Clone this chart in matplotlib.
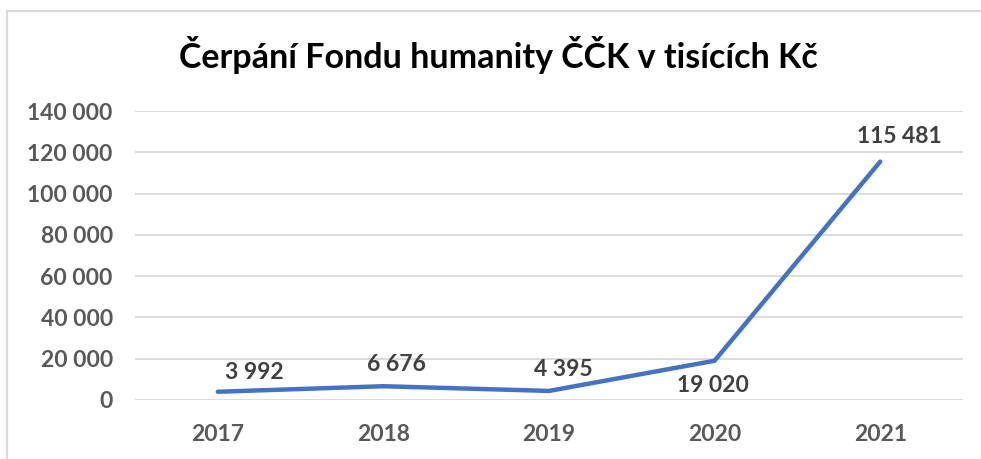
import matplotlib.pyplot as plt
from matplotlib.patches import Rectangle

years = ['2017', '2018', '2019', '2020', '2021']
values = [3992, 6676, 4395, 19020, 115481]
labels = ['3 992', '6 676', '4 395', '19 020', '115 481']
# label offsets in pixels (dx, dy) relative to each point
label_offsets = [(37, 19), (13, 22), (14, 21), (-2, -25), (19, 25)]
yticks = [0, 20000, 40000, 60000, 80000, 100000, 120000, 140000]
ytick_labels = ['0', '20 000', '40 000', '60 000', '80 000', '100 000', '120 000', '140 000']

plt.rcParams['font.family'] = ['Lato', 'DejaVu Sans']
plt.rcParams['font.weight'] = 'bold'

fig = plt.figure(figsize=(9.81, 4.59), dpi=100)
W, H = 981, 459

# chart border (light grey frame, cut off at right and bottom)
fig.patches.append(Rectangle((7 / W, -0.1), 1.2, 1.1 - 11 / H, transform=fig.transFigure,
                             fill=False, edgecolor='#D9D9D9', linewidth=1.6))

ax = fig.add_axes([135 / W, 1 - 400 / H, (963 - 135) / W, (400 - 111) / H])
x = range(len(years))
ax.plot(x, values, color='#4472C4', linewidth=3.2, solid_capstyle='round', solid_joinstyle='round',
        zorder=3)

for xi, v, lab, (dx, dy) in zip(x, values, labels, label_offsets):
    ax.annotate(lab, (xi, v), xytext=(dx, dy), textcoords='offset pixels',
                ha='center', va='center', fontsize=16.5, fontweight='bold', color='#404040')

ax.set_xlim(-0.5, len(years) - 0.5)
ax.set_ylim(0, 140000)
ax.set_yticks(yticks)
ax.set_yticklabels(ytick_labels, fontweight='bold')
ax.set_xticks(list(x))
ax.set_xticklabels(years, fontweight='bold')
ax.tick_params(axis='both', length=0, labelsize=16.5, labelcolor='#595959')
ax.tick_params(axis='y', pad=16)
ax.tick_params(axis='x', pad=17)
ax.grid(axis='y', color='#D9D9D9', linewidth=1.3)
ax.set_axisbelow(True)
for s in ax.spines.values():
    s.set_visible(False)

fig.text(498 / W, 1 - 55 / H, 'Čerpání Fondu humanity ČČK v tisících Kč', ha='center', va='center',
         fontsize=24.5, fontweight='bold', color='black')

fig.savefig('out.png', dpi=100, facecolor='white')
